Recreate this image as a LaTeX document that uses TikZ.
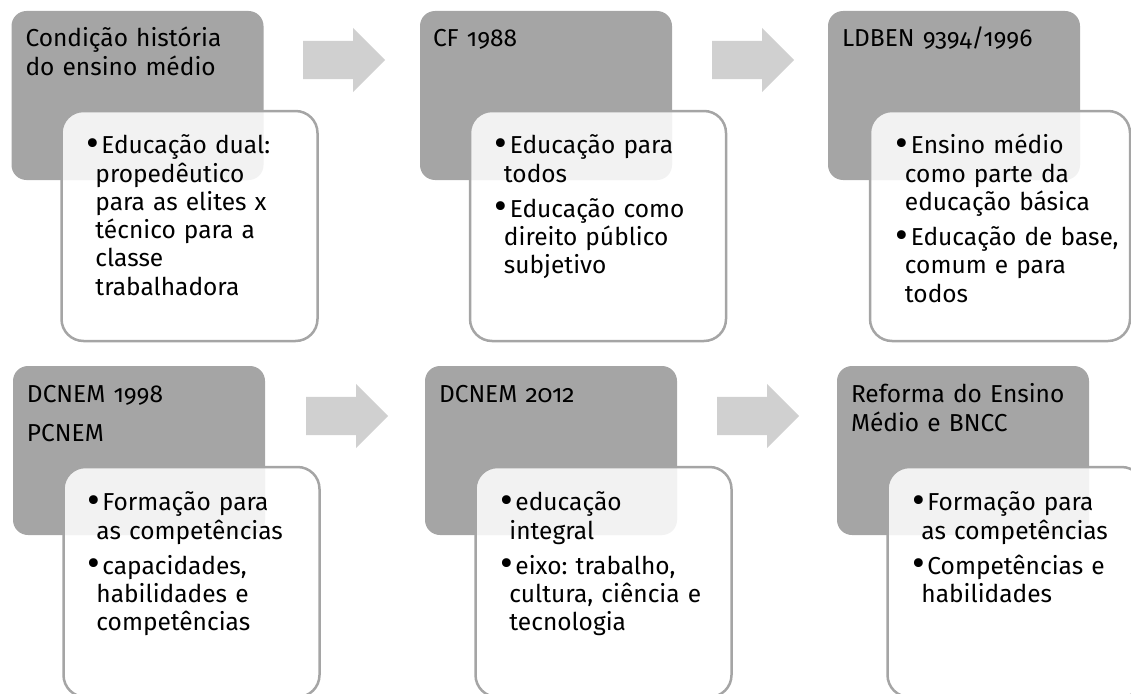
\documentclass[tikz,border=0pt]{standalone}
\usepackage{fontspec}
\setmainfont{Fira Sans}[Numbers=OldStyle]
\usetikzlibrary{positioning}
\usetikzlibrary{shapes.arrows}

\definecolor{stagegray}{HTML}{A5A5A5}
\definecolor{arrowgray}{HTML}{D0D0D0}

% one bullet point, hanging indent for the next lines
\newcommand{\bitem}[1]{\noindent\hangindent=9pt\hangafter=1\makebox[15pt][l]{\raisebox{-2.5pt}{\scalebox{1.6}{\textbullet}}}#1\par}

\begin{document}
\begin{tikzpicture}[x=1pt,y=-1pt,
    stage/.style={fill=stagegray, rounded corners=15pt, minimum width=252pt, minimum height=169pt, inner sep=0pt},
    detail/.style={draw=stagegray, line width=2.5pt, fill=white, fill opacity=0.86, rounded corners=22pt, minimum width=256pt, minimum height=230pt, inner sep=0pt},
    headtxt/.style={anchor=base west, text width=235pt, align=left, inner sep=0pt, font=\fontsize{24.5}{28.3}\selectfont\frenchspacing},
    itemtxt/.style={anchor=base west, text width=228pt, align=left, inner sep=0pt, font=\fontsize{24.5}{28.3}\selectfont\frenchspacing\setlength{\parskip}{7pt}},
    flowarrow/.style={single arrow, anchor=tail, fill=arrowgray, minimum height=82pt, inner xsep=0pt, inner ysep=19pt, single arrow head extend=13pt, single arrow head indent=0pt}
]
    \useasboundingbox (0,0) rectangle (1131,693);

    % Stages (dark boxes)
    \node[stage] (hist)   at (137.5,95.5) {};
    \node[stage] (cf)     at (546,95.5) {};
    \node[stage] (ldben)  at (954,95.5) {};
    \node[stage] (dcnemA) at (139,450.5) {};
    \node[stage] (dcnemB) at (551,450.5) {};
    \node[stage] (reform) at (963,450.5) {};

    % Arrows between the stages
    \node[flowarrow] (arrA) at (303,60) {};
    \node[flowarrow] (arrB) at (712,60) {};
    \node[flowarrow] (arrC) at (306,416) {};
    \node[flowarrow] (arrD) at (717,416) {};

    % Details (white boxes)
    \node[detail] (histdet)   at (189.5,226) {};
    \node[detail] (cfdet)     at (598,226) {};
    \node[detail, minimum width=260pt] (ldbendet) at (1000,226) {};
    \node[detail] (dcnemAdet) at (191.5,582) {};
    \node[detail] (dcnemBdet) at (603.5,582) {};
    \node[detail] (reformdet) at (1015.5,582) {};

    % Titles
    \node[headtxt] (histtitle) at ([xshift=14pt,yshift=-36pt]hist.north west) {Condição história\newline do ensino médio};
    \node[headtxt] (cftitle) at ([xshift=13pt,yshift=-36pt]cf.north west) {CF 1988};
    \node[headtxt] (ldbentitle) at ([xshift=14pt,yshift=-36pt]ldben.north west) {LDBEN 9394/1996};
    \node[headtxt] (dcnemAtitle) at ([xshift=14pt,yshift=-37pt]dcnemA.north west) {DCNEM 1998\par\vspace{10.7pt}PCNEM};
    \node[headtxt] (dcnemBtitle) at ([xshift=14pt,yshift=-37pt]dcnemB.north west) {DCNEM 2012};
    \node[headtxt] (reformtitle) at ([xshift=14pt,yshift=-37pt]reform.north west) {Reforma do Ensino\newline Médio e BNCC};

    % Bullet points
    \node[itemtxt] (histitems) at ([xshift=26pt,yshift=-44pt]histdet.north west)
        {\bitem{Educação dual:\newline propedêutico\newline para as elites x\newline técnico para a\newline classe\newline trabalhadora}};
    \node[itemtxt] (cfitems) at ([xshift=26pt,yshift=-44pt]cfdet.north west)
        {\bitem{Educação para\newline todos}\bitem{Educação como\newline direito público\newline subjetivo}};
    \node[itemtxt] (ldbenitems) at ([xshift=27pt,yshift=-44pt]ldbendet.north west)
        {\bitem{Ensino médio\newline como parte da\newline educação básica}\bitem{Educação de base,\newline comum e para\newline todos}};
    \node[itemtxt] (dcnemAitems) at ([xshift=25pt,yshift=-45pt]dcnemAdet.north west)
        {\bitem{Formação para\newline as competências}\bitem{capacidades,\newline habilidades e\newline competências}};
    \node[itemtxt] (dcnemBitems) at ([xshift=26pt,yshift=-45pt]dcnemBdet.north west)
        {\bitem{educação\newline integral}\bitem{eixo: trabalho,\newline cultura, ciência e\newline tecnologia}};
    \node[itemtxt] (reformitems) at ([xshift=26pt,yshift=-45pt]reformdet.north west)
        {\bitem{Formação para\newline as competências}\bitem{Competências e\newline habilidades}};
\end{tikzpicture}
\end{document}
